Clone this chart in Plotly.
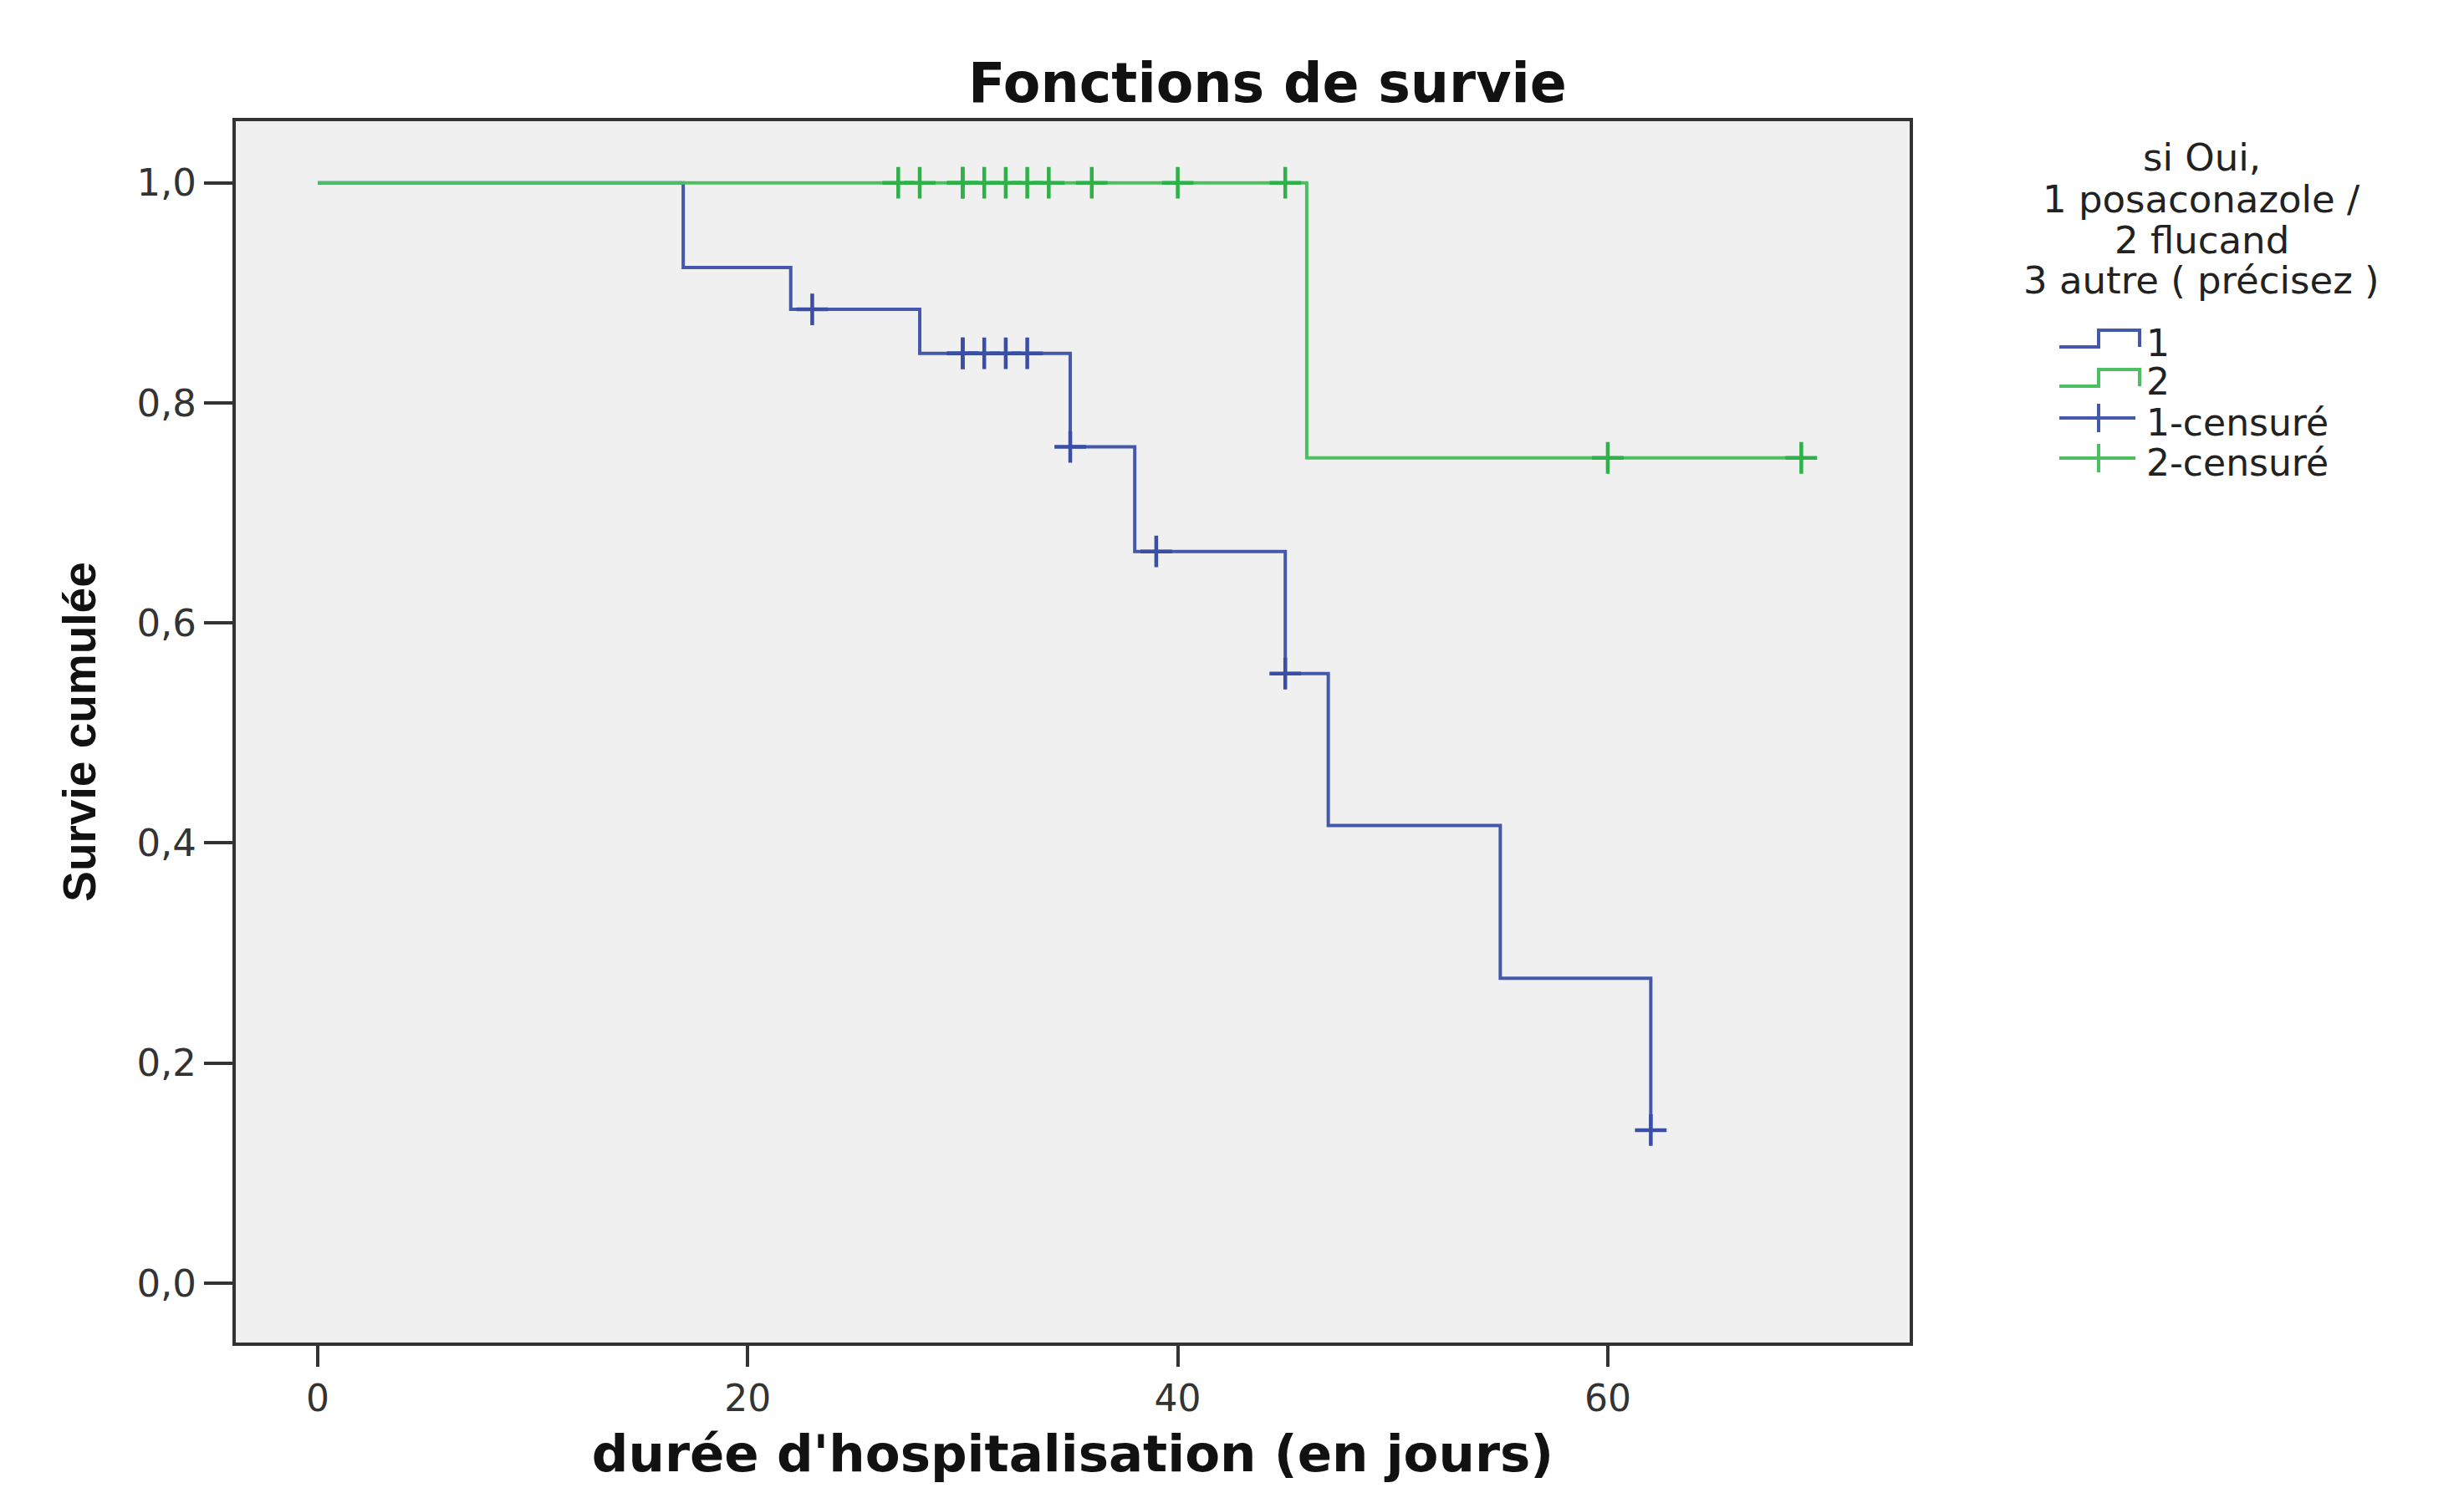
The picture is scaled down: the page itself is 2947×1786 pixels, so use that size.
import plotly.graph_objects as go

# ---------------- Data ----------------
group_names = ["1", "2"]
censor_names = ["1-censuré", "2-censuré"]

g1_times = [0, 17, 22, 28, 35, 38, 45, 47, 55, 62]
g1_surv = [1.0, 0.923, 0.885, 0.845, 0.760, 0.665, 0.554, 0.416, 0.277, 0.139]
g1_censored = [23, 30, 30, 31, 32, 33, 35, 39, 45, 62]

g2_times = [0, 46, 69]
g2_surv = [1.0, 0.75, 0.75]
g2_censored = [27, 28, 30, 30, 31, 32, 33, 34, 36, 40, 45, 60, 69]

x_tick_vals = [0, 20, 40, 60]
y_tick_vals = [0.0, 0.2, 0.4, 0.6, 0.8, 1.0]
y_tick_text = ["0,0", "0,2", "0,4", "0,6", "0,8", "1,0"]

legend_title_lines = ["si Oui,", "1 posaconazole /", "2 flucand", "3 autre ( précisez )"]

title_text = "Fonctions de survie"
x_title = "durée d'hospitalisation (en jours)"
y_title = "Survie cumulée"

# ---------------- Styles ----------------
BLUE = "#4458AC"
GREEN = "#4CBF5E"
BLUE_M = "#3A4EA6"
GREEN_M = "#2DB148"
FRAME = "#333333"

W, H = 2947, 1786
PL, PR, PT, PB = 282, 2284, 145, 1606


def step_value(times, surv, t):
    val = surv[0]
    for ti, si in zip(times, surv):
        if ti <= t:
            val = si
    return val


def px(x):
    return (x - PL) / (PR - PL)


def py(y):
    return (PB - y) / (PB - PT)


fig = go.Figure()

# survival step curves (blue below green, as in the reference)
fig.add_trace(go.Scatter(x=g1_times, y=g1_surv, mode="lines", line_shape="hv",
                         line=dict(color=BLUE, width=4), name=group_names[0],
                         showlegend=False, hoverinfo="skip"))
fig.add_trace(go.Scatter(x=g2_times, y=g2_surv, mode="lines", line_shape="hv",
                         line=dict(color=GREEN, width=4), name=group_names[1],
                         showlegend=False, hoverinfo="skip"))

# censored marks
fig.add_trace(go.Scatter(x=g1_censored,
                         y=[step_value(g1_times, g1_surv, t) for t in g1_censored],
                         mode="markers", name=censor_names[0], showlegend=False,
                         marker=dict(symbol="cross-thin", size=27,
                                     line=dict(color=BLUE_M, width=4.5))))
fig.add_trace(go.Scatter(x=g2_censored,
                         y=[step_value(g2_times, g2_surv, t) for t in g2_censored],
                         mode="markers", name=censor_names[1], showlegend=False,
                         marker=dict(symbol="cross-thin", size=27,
                                     line=dict(color=GREEN_M, width=4.5))))

# ---------------- Custom legend (SPSS style) ----------------
shapes = []
annotations = []
leg_cx = 2633
title_centers = [189, 238, 287, 336]
for txt, yc in zip(legend_title_lines, title_centers):
    annotations.append(dict(text=txt, x=px(leg_cx), y=py(yc), xref="paper", yref="paper",
                            xanchor="center", yanchor="middle", showarrow=False,
                            font=dict(family="DejaVu Sans", size=45, color="#222222")))

row_y = [405, 452, 500, 548]
ix0, ixs, ix1 = 2463, 2510, 2559
for i, col in enumerate([BLUE, GREEN]):
    yc = row_y[i]
    lo, hi = yc + 10, yc - 10
    path = (f"M {px(ix0)},{py(lo)} L {px(ixs)},{py(lo)} L {px(ixs)},{py(hi)} "
            f"L {px(ix1)},{py(hi)} L {px(ix1)},{py(lo)}")
    shapes.append(dict(type="path", path=path, xref="paper", yref="paper",
                       line=dict(color=col, width=4)))
for i, col in enumerate([BLUE, GREEN]):
    yc = row_y[2 + i]
    shapes.append(dict(type="line", xref="paper", yref="paper",
                       x0=px(ix0), x1=px(2554), y0=py(yc), y1=py(yc),
                       line=dict(color=col, width=4)))
    shapes.append(dict(type="line", xref="paper", yref="paper",
                       x0=px(ixs), x1=px(ixs), y0=py(yc - 17), y1=py(yc + 17),
                       line=dict(color=col, width=4)))

for lab, yc in zip(group_names + censor_names, row_y):
    annotations.append(dict(text=lab, x=px(2565), y=py(yc + 5), xref="paper", yref="paper",
                            xanchor="left", yanchor="middle", showarrow=False,
                            font=dict(family="DejaVu Sans", size=44, color="#222222")))

fig.update_layout(
    width=W, height=H,
    margin=dict(l=PL, r=W - PR, t=PT, b=H - PB, autoexpand=False),
    paper_bgcolor="white",
    plot_bgcolor="#F0F0F0",
    showlegend=False,
    title=dict(text=title_text, x=1516 / W, xref="container", xanchor="center",
               y=1 - 99 / H, yref="container", yanchor="middle",
               font=dict(family="DejaVu Sans", size=65, color="#111111", weight="bold")),
    shapes=shapes,
    annotations=annotations,
)

fig.update_xaxes(
    range=[-3.81, 74.04], tickvals=x_tick_vals, ticks="outside", ticklen=25,
    tickwidth=4, tickcolor=FRAME, showline=True, linewidth=4, linecolor=FRAME,
    mirror=True, showgrid=False, zeroline=False,
    tickfont=dict(family="DejaVu Sans", size=44, color="#333333"),
    title=dict(text=x_title, standoff=22,
               font=dict(family="DejaVu Sans", size=61, color="#111111", weight="bold")),
)
fig.update_yaxes(
    range=[-0.054, 1.056], tickvals=y_tick_vals, ticktext=y_tick_text, ticks="outside",
    ticklen=34, tickwidth=4, tickcolor=FRAME, showline=True, linewidth=4, linecolor=FRAME,
    mirror=True, showgrid=False, zeroline=False,
    tickfont=dict(family="DejaVu Sans", size=45, color="#333333"),
    title=dict(text=y_title, standoff=32,
               font=dict(family="Liberation Sans, Arial, sans-serif",
                         size=55, color="#111111", weight="bold")),
)

fig.write_html("out.html")
